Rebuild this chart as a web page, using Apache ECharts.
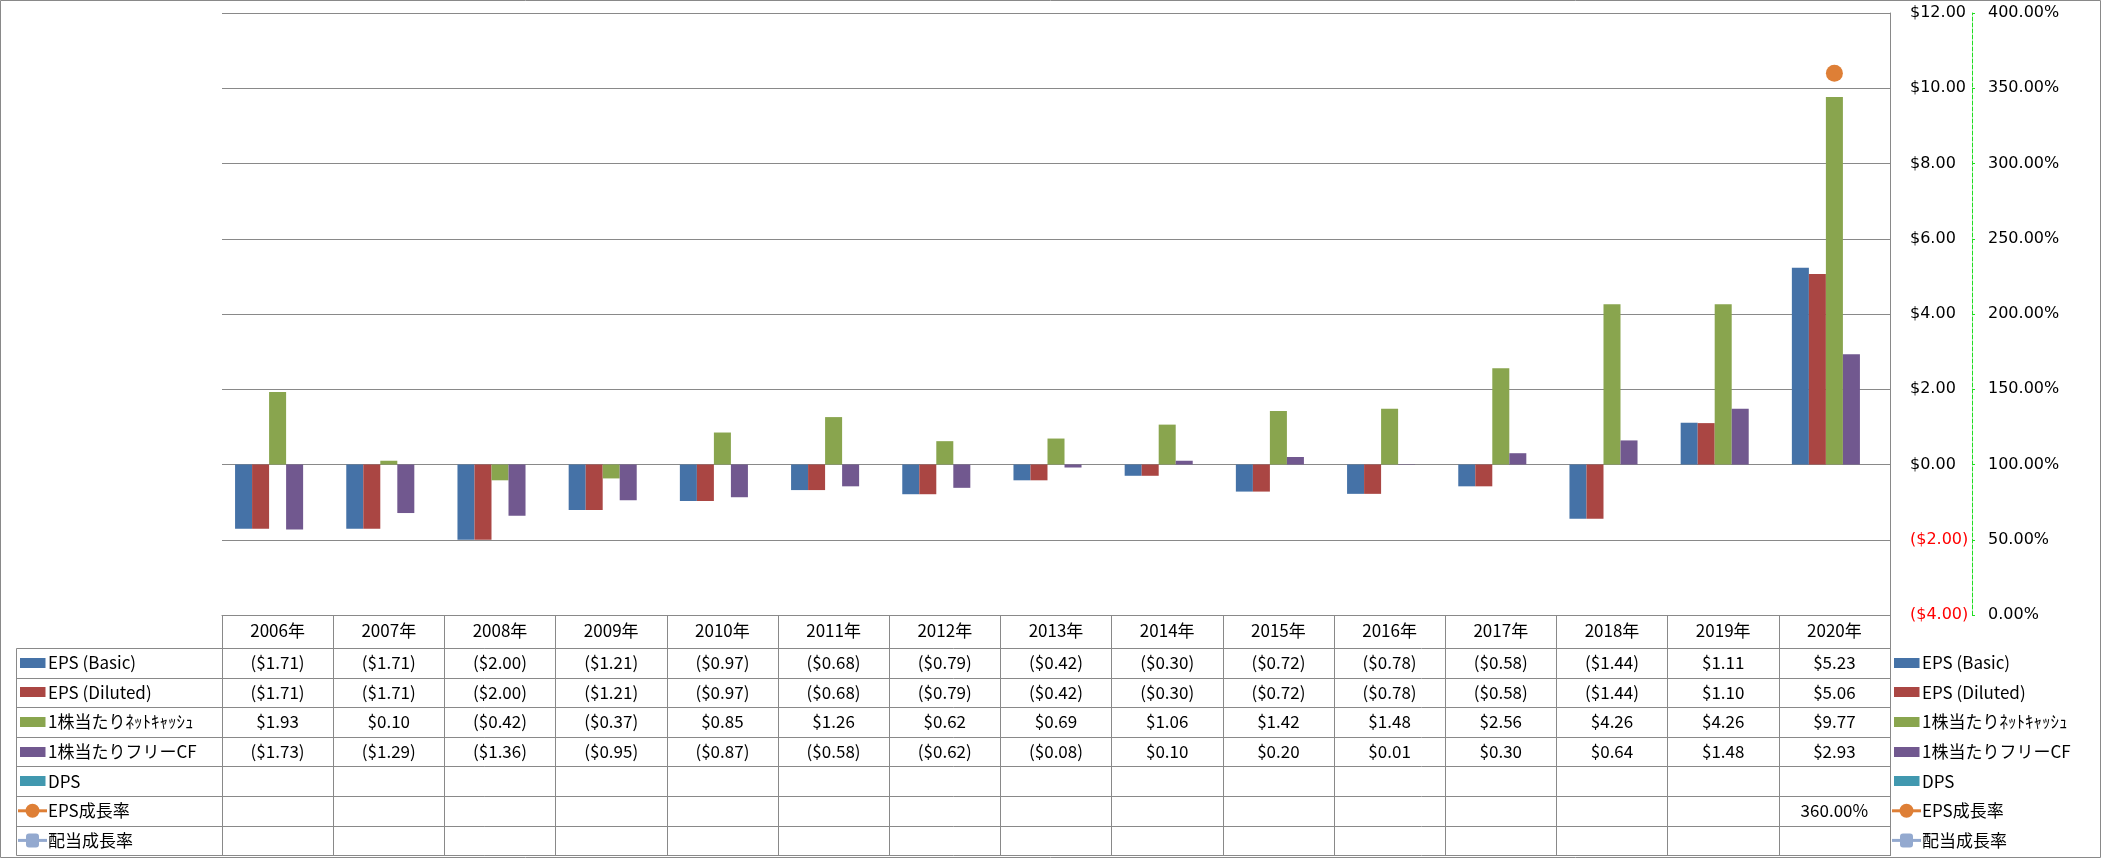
<!DOCTYPE html>
<html><head><meta charset="utf-8">
<script src="https://cdn.jsdelivr.net/npm/echarts@6/dist/echarts.min.js"></script>
<style>html,body{margin:0;padding:0;background:#fff}#c{width:2101px;height:858px}</style>
</head><body><div id="c"></div>
<script>
const years = ['2006年','2007年','2008年','2009年','2010年','2011年','2012年','2013年','2014年','2015年','2016年','2017年','2018年','2019年','2020年'];
const epsBasic   = [-1.71,-1.71,-2.00,-1.21,-0.97,-0.68,-0.79,-0.42,-0.30,-0.72,-0.78,-0.58,-1.44,1.11,5.23];
const epsDiluted = [-1.71,-1.71,-2.00,-1.21,-0.97,-0.68,-0.79,-0.42,-0.30,-0.72,-0.78,-0.58,-1.44,1.10,5.06];
const netCash    = [1.93,0.10,-0.42,-0.37,0.85,1.26,0.62,0.69,1.06,1.42,1.48,2.56,4.26,4.26,9.77];
const freeCF     = [-1.73,-1.29,-1.36,-0.95,-0.87,-0.58,-0.62,-0.08,0.10,0.20,0.01,0.30,0.64,1.48,2.93];
const dps        = [null,null,null,null,null,null,null,null,null,null,null,null,null,null,null];
const epsGrowth  = [null,null,null,null,null,null,null,null,null,null,null,null,null,null,360];
const divGrowth  = [null,null,null,null,null,null,null,null,null,null,null,null,null,null,null];
const names = ['EPS (Basic)','EPS (Diluted)','1株当たりﾈｯﾄｷｬｯｼｭ','1株当たりフリーCF','DPS','EPS成長率','配当成長率'];
const usdAxis = {min:-4, max:12, interval:2};
const pctAxis = {min:0, max:400, interval:50};

const colors = ['#4572A7','#AA4643','#89A54E','#71588F','#4198AF','#DE7F36','#93A9CF'];
const FONT = 'Noto Sans CJK JP';
const AXFONT = 'DejaVu Sans';
const GRAY = '#898989';

function fmtUSD(v){ if(v==null) return ''; return v<0 ? '($'+(-v).toFixed(2)+')' : '$'+v.toFixed(2); }
function fmtPct(v){ if(v==null) return ''; return v.toFixed(2)+'%'; }

const rows = [
  {name:names[0], data:epsBasic, fmt:fmtUSD, kind:'bar'},
  {name:names[1], data:epsDiluted, fmt:fmtUSD, kind:'bar'},
  {name:names[2], data:netCash, fmt:fmtUSD, kind:'bar'},
  {name:names[3], data:freeCF, fmt:fmtUSD, kind:'bar'},
  {name:names[4], data:dps, fmt:fmtUSD, kind:'bar'},
  {name:names[5], data:epsGrowth, fmt:fmtPct, kind:'line', symbol:'circle'},
  {name:names[6], data:divGrowth, fmt:fmtPct, kind:'line', symbol:'roundRect'}
];

const chart = echarts.init(document.getElementById('c'), null, {renderer:'canvas'});

const series = rows.map((r,i)=>{
  if(r.kind==='bar') return {
    name:r.name, type:'bar', data:r.data, barGap:'0%', barCategoryGap:'23.5%',
    itemStyle:{color:colors[i]}, emphasis:{disabled:true}
  };
  return {
    name:r.name, type:'line', yAxisIndex:1, data:r.data, symbol:r.symbol, symbolSize:17,
    itemStyle:{color:colors[i]}, lineStyle:{color:colors[i], width:3}, emphasis:{disabled:true}
  };
});

chart.setOption({
  animation:false,
  backgroundColor:'#fff',
  textStyle:{fontFamily:FONT},
  grid:{left:222, right:211, top:13, bottom:243},
  legend:{show:false, data:names},
  xAxis:{
    type:'category', data:years, position:'bottom',
    axisLine:{show:true, onZero:false, lineStyle:{color:GRAY, width:1}},
    axisTick:{show:true, length:241, interval:0, lineStyle:{color:GRAY, width:1}},
    axisLabel:{show:true, interval:0, margin:7, fontSize:17, color:'#000', fontFamily:FONT},
    splitLine:{show:false}
  },
  yAxis:[
    {type:'value', position:'right', min:usdAxis.min, max:usdAxis.max, interval:usdAxis.interval,
     axisLine:{show:true, onZero:false, lineStyle:{color:GRAY}}, axisTick:{show:false},
     splitLine:{show:true, lineStyle:{color:GRAY, width:1}},
     axisLabel:{margin:20, fontSize:16, color:'#000', fontFamily:AXFONT,
       formatter:v=> v<0 ? '{n|'+fmtUSD(v)+'}' : fmtUSD(v),
       rich:{n:{color:'#FF0000', fontSize:16, fontFamily:AXFONT}}}},
    {type:'value', position:'right', offset:82, min:pctAxis.min, max:pctAxis.max, interval:pctAxis.interval,
     axisLine:{show:true, onZero:false, lineStyle:{color:'#22DD22', type:'dashed', width:1}},
     axisTick:{show:true, length:3, lineStyle:{color:'#22DD22'}},
     splitLine:{show:false},
     axisLabel:{margin:16, fontSize:16, color:'#000', fontFamily:AXFONT, formatter:v=>fmtPct(v)}}
  ],
  series:series
});

// ---- data table drawn under the plot, aligned to the category axis ----
const tableTop = chart.convertToPixel({yAxisIndex:0}, usdAxis.min);
const grid = chart.getModel().getComponent('grid').coordinateSystem.getRect();
const plotR = grid.x + grid.width;
const headerH = 33, rowH = 29.6, labL = 16.5;
const g = [];
g.push({type:'rect', shape:{x:0.5,y:0.5,width:2100,height:857}, style:{fill:null, stroke:GRAY, lineWidth:1}, silent:true, z:0});
for(let r=0;r<=rows.length;r++){
  const y = Math.round(tableTop + headerH + r*rowH) + 0.5;
  g.push({type:'line', shape:{x1:labL, y1:y, x2:plotR, y2:y}, style:{stroke:GRAY, lineWidth:1}, silent:true});
}
g.push({type:'line', shape:{x1:labL, y1:Math.round(tableTop+headerH)+0.5, x2:labL, y2:Math.round(tableTop+headerH+rows.length*rowH)+0.5}, style:{stroke:GRAY, lineWidth:1}, silent:true});

function legendKey(r, i, x0, cy, textX){
  if(r.kind==='bar'){
    g.push({type:'rect', shape:{x:x0+2, y:Math.round(cy-5), width:25.5, height:10}, style:{fill:colors[i]}, silent:true});
  } else {
    g.push({type:'line', shape:{x1:x0, y1:cy, x2:x0+29, y2:cy}, style:{stroke:colors[i], lineWidth:3}, silent:true});
    if(r.symbol==='circle') g.push({type:'circle', shape:{cx:x0+14.5, cy:cy, r:7}, style:{fill:colors[i]}, silent:true});
    else g.push({type:'rect', shape:{x:x0+8, y:cy-7, width:13, height:14, r:3}, style:{fill:colors[i]}, silent:true});
  }
  g.push({type:'text', x:textX, y:cy, style:{text:r.name, fontSize:17, fontFamily:FONT, fill:'#000', verticalAlign:'middle', align:'left'}, silent:true});
}

rows.forEach((r,i)=>{
  const cy = tableTop + headerH + i*rowH + rowH/2;
  legendKey(r, i, 18, cy, 48);          // row header inside the table
  legendKey(r, i, plotR + 2, cy, plotR + 32); // legend at the right
  r.data.forEach((v,j)=>{
    const s = r.fmt(v);
    if(!s) return;
    const cx = chart.convertToPixel({xAxisIndex:0}, j);
    g.push({type:'text', x:cx, y:cy, style:{text:s, fontSize:17, fontFamily:FONT, fill:'#000', verticalAlign:'middle', align:'center'}, silent:true});
  });
});
chart.setOption({graphic:g});
</script></body></html>
